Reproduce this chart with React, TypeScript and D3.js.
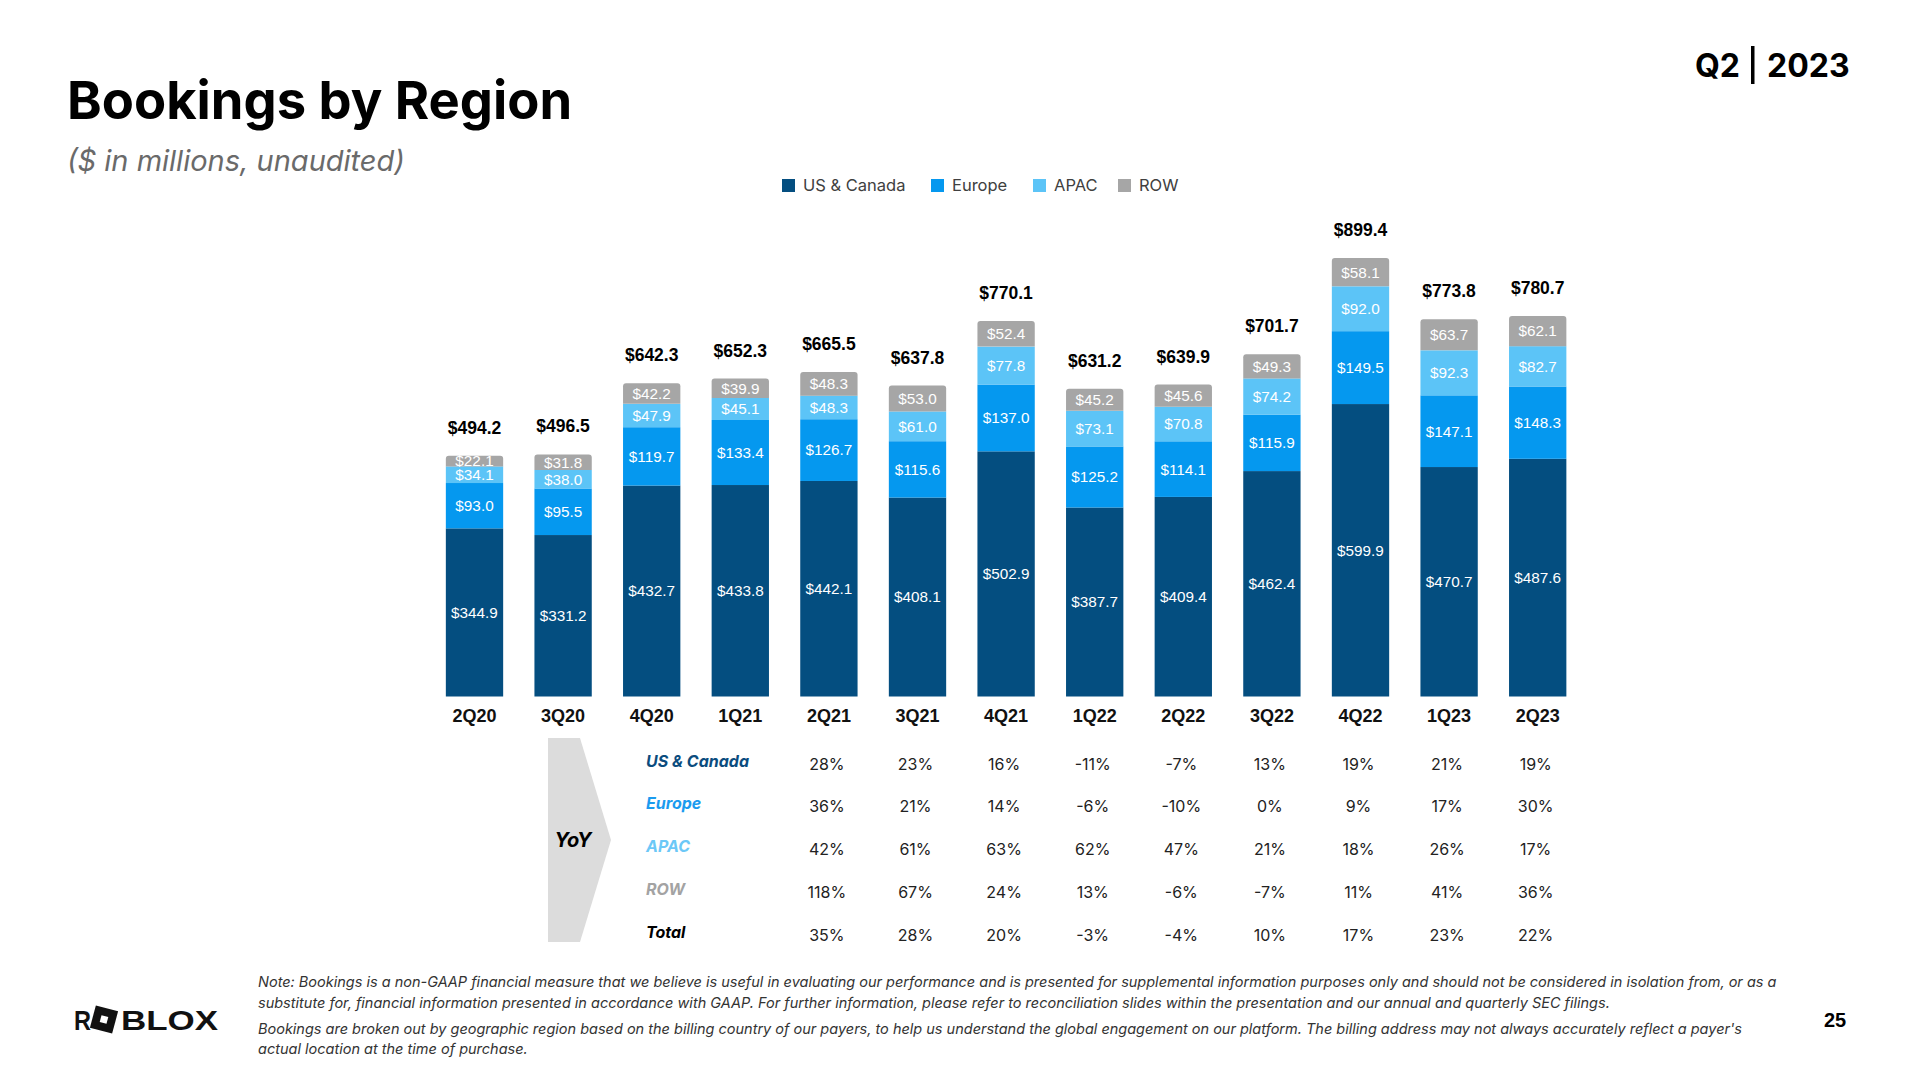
import React from 'react';
import * as d3 from 'd3';

const categories = ['2Q20', '3Q20', '4Q20', '1Q21', '2Q21', '3Q21', '4Q21', '1Q22', '2Q22', '3Q22', '4Q22', '1Q23', '2Q23'];
const usCanada = [344.9, 331.2, 432.7, 433.8, 442.1, 408.1, 502.9, 387.7, 409.4, 462.4, 599.9, 470.7, 487.6];
const europe = [93.0, 95.5, 119.7, 133.4, 126.7, 115.6, 137.0, 125.2, 114.1, 115.9, 149.5, 147.1, 148.3];
const apac = [34.1, 38.0, 47.9, 45.1, 48.3, 61.0, 77.8, 73.1, 70.8, 74.2, 92.0, 92.3, 82.7];
const rowRegion = [22.1, 31.8, 42.2, 39.9, 48.3, 53.0, 52.4, 45.2, 45.6, 49.3, 58.1, 63.7, 62.1];
const totals = [494.2, 496.5, 642.3, 652.3, 665.5, 637.8, 770.1, 631.2, 639.9, 701.7, 899.4, 773.8, 780.7];

const seriesNames = ['US & Canada', 'Europe', 'APAC', 'ROW'];
const seriesColors = ['#044E80', '#0598EF', '#5CC4F7', '#A6A6A6'];
const rowLabelColors = ['#0B4C7E', '#1B9BEF', '#6CC8F7', '#A3A3A3', '#000000'];

const yoyCategories = ['2Q21', '3Q21', '4Q21', '1Q22', '2Q22', '3Q22', '4Q22', '1Q23', '2Q23'];
const yoyRowLabels = ['US & Canada', 'Europe', 'APAC', 'ROW', 'Total'];
const yoyUS = [28, 23, 16, -11, -7, 13, 19, 21, 19];
const yoyEurope = [36, 21, 14, -6, -10, 0, 9, 17, 30];
const yoyAPAC = [42, 61, 63, 62, 47, 21, 18, 26, 17];
const yoyROW = [118, 67, 24, 13, -6, -7, 11, 41, 36];
const yoyTotal = [35, 28, 20, -3, -4, 10, 17, 23, 22];

const footnoteLines = [
  'Note: Bookings is a non-GAAP financial measure that we believe is useful in evaluating our performance and is presented for supplemental information purposes only and should not be considered in isolation from, or as a',
  'substitute for, financial information presented in accordance with GAAP. For further information, please refer to reconciliation slides within the presentation and our annual and quarterly SEC filings.',
  "Bookings are broken out by geographic region based on the billing country of our payers, to help us understand the global engagement on our platform. The billing address may not always accurately reflect a payer's",
  'actual location at the time of purchase.',
];

const W = 1920;
const H = 1080;
const ARIAL = '"Liberation Sans", Arial, sans-serif';
const INTER = 'Inter, "Noto Sans", sans-serif';

function topRoundedRect(x: number, y: number, w: number, h: number, r: number) {
  const rr = Math.min(r, h / 2, w / 2);
  const p = d3.path();
  p.moveTo(x, y + h);
  p.lineTo(x, y + rr);
  p.quadraticCurveTo(x, y, x + rr, y);
  p.lineTo(x + w - rr, y);
  p.quadraticCurveTo(x + w, y, x + w, y + rr);
  p.lineTo(x + w, y + h);
  p.closePath();
  return p.toString();
}

export default function App() {
  const step = 88.6;
  const firstCenter = 474.5;
  const x = d3
    .scaleBand<string>()
    .domain(categories)
    .range([firstCenter - step / 2, firstCenter - step / 2 + step * categories.length])
    .paddingInner(0.353)
    .paddingOuter(0.353 / 2);
  const y = d3.scaleLinear().domain([0, 1000]).range([696.5, 696.5 - 487.5]);

  const table = categories.map((c, i) => ({
    cat: c,
    'US & Canada': usCanada[i],
    Europe: europe[i],
    APAC: apac[i],
    ROW: rowRegion[i],
  }));
  const stacked = d3.stack<any>().keys(seriesNames)(table);

  const yoyRows = [yoyUS, yoyEurope, yoyAPAC, yoyROW, yoyTotal];
  const rowY = d3.scalePoint<string>().domain(yoyRowLabels).range([761, 932]);

  const legendX = [782, 931, 1033, 1118];

  return (
    <svg
      width={W}
      height={H}
      viewBox={`0 0 ${W} ${H}`}
      style={{ position: 'absolute', left: 0, top: 0, background: '#fff' }}
    >
      <rect x={0} y={0} width={W} height={H} fill="#fff" />
      {/* Title */}
      <text x={67} y={119} fontFamily={INTER} fontWeight={700} fontSize={52.5} fill="#000">
        Bookings by Region
      </text>
      <text x={67} y={171} fontFamily={INTER} fontStyle="italic" fontSize={29} fill="#6A6A6A">
        ($ in millions, unaudited)
      </text>
      {/* Q2 | 2023 */}
      <text x={1695} y={77} fontFamily={INTER} fontWeight={700} fontSize={32} fill="#000">
        Q2
      </text>
      <rect x={1751} y={46} width={3.5} height={38} fill="#000" />
      <text x={1767} y={77} fontFamily={INTER} fontWeight={700} fontSize={32} fill="#000">
        2023
      </text>

      {/* Legend */}
      {seriesNames.map((s, i) => (
        <g key={s}>
          <rect x={legendX[i]} y={179} width={13} height={13} fill={seriesColors[i]} />
          <text x={legendX[i] + 21} y={191} fontFamily={INTER} fontSize={16.5} fill="#404040">
            {s}
          </text>
        </g>
      ))}

      {/* Bars */}
      {categories.map((c, ci) => {
        const bx = x(c) as number;
        const bw = x.bandwidth();
        const cx = bx + bw / 2;
        return (
          <g key={c}>
            {stacked.map((layer, si) => {
              const d = layer[ci];
              const y0 = y(d[0]);
              const y1 = y(d[1]);
              const v = d[1] - d[0];
              const isTop = si === stacked.length - 1;
              return (
                <g key={si}>
                  {isTop ? (
                    <path d={topRoundedRect(bx, y1, bw, y0 - y1, 3)} fill={seriesColors[si]} />
                  ) : (
                    <rect x={bx} y={y1} width={bw} height={y0 - y1} fill={seriesColors[si]} />
                  )}
                  <text
                    x={cx}
                    y={(y0 + y1) / 2 + 5.4}
                    textAnchor="middle"
                    fontFamily={ARIAL}
                    fontSize={15.3}
                    fill="#fff"
                  >
                    {`$${v.toFixed(1)}`}
                  </text>
                </g>
              );
            })}
            <text
              x={cx}
              y={y(totals[ci]) - 22}
              textAnchor="middle"
              fontFamily={ARIAL}
              fontWeight={700}
              fontSize={17.5}
              fill="#000"
            >
              {`$${totals[ci].toFixed(1)}`}
            </text>
            <text
              x={cx}
              y={722}
              textAnchor="middle"
              fontFamily={ARIAL}
              fontWeight={700}
              fontSize={18}
              fill="#111"
            >
              {c}
            </text>
          </g>
        );
      })}

      {/* YoY arrow */}
      <polygon points="548,738 580,738 611,840 580,942 548,942" fill="#DCDCDC" />
      <text
        x={573}
        y={847}
        textAnchor="middle"
        fontFamily={INTER}
        fontWeight={700}
        fontStyle="italic"
        fontSize={20}
        fill="#000"
      >
        YoY
      </text>

      {/* YoY table */}
      {yoyRowLabels.map((lab, ri) => (
        <g key={lab}>
          <text
            x={646}
            y={(rowY(lab) as number) + 5.5}
            fontFamily={INTER}
            fontWeight={700}
            fontStyle="italic"
            fontSize={16}
            fill={rowLabelColors[ri]}
          >
            {lab}
          </text>
          {yoyCategories.map((c, ci) => (
            <text
              key={c}
              x={(x(c) as number) + x.bandwidth() / 2 - 2}
              y={(rowY(lab) as number) + 8.5}
              textAnchor="middle"
              fontFamily={INTER}
              fontSize={16}
              fill="#222"
            >
              {`${yoyRows[ri][ci]}%`}
            </text>
          ))}
        </g>
      ))}

      {/* Footnote */}
      {footnoteLines.map((line, i) => (
        <text
          key={i}
          x={258}
          y={[987, 1008, 1034, 1054][i]}
          fontFamily={INTER}
          fontStyle="italic"
          fontSize={14.5}
          fill="#333"
        >
          {line}
        </text>
      ))}

      {/* Roblox logo */}
      <g>
        <text x={74} y={1030} fontFamily={ARIAL} fontWeight={700} fontSize={28} fill="#111" textLength={17} lengthAdjust="spacingAndGlyphs">
          R
        </text>
        <g transform="translate(104,1019.5) rotate(15)">
          <rect x={-11.5} y={-11.5} width={23} height={23} fill="#111" />
          <rect x={-3.5} y={-3.5} width={7} height={7} fill="#fff" />
        </g>
        <text x={121} y={1030} fontFamily={ARIAL} fontWeight={700} fontSize={28} fill="#111" textLength={97} lengthAdjust="spacingAndGlyphs">
          BLOX
        </text>
      </g>

      {/* Page number */}
      <text x={1835} y={1027} textAnchor="middle" fontFamily={ARIAL} fontWeight={700} fontSize={20} fill="#000">
        25
      </text>
    </svg>
  );
}
